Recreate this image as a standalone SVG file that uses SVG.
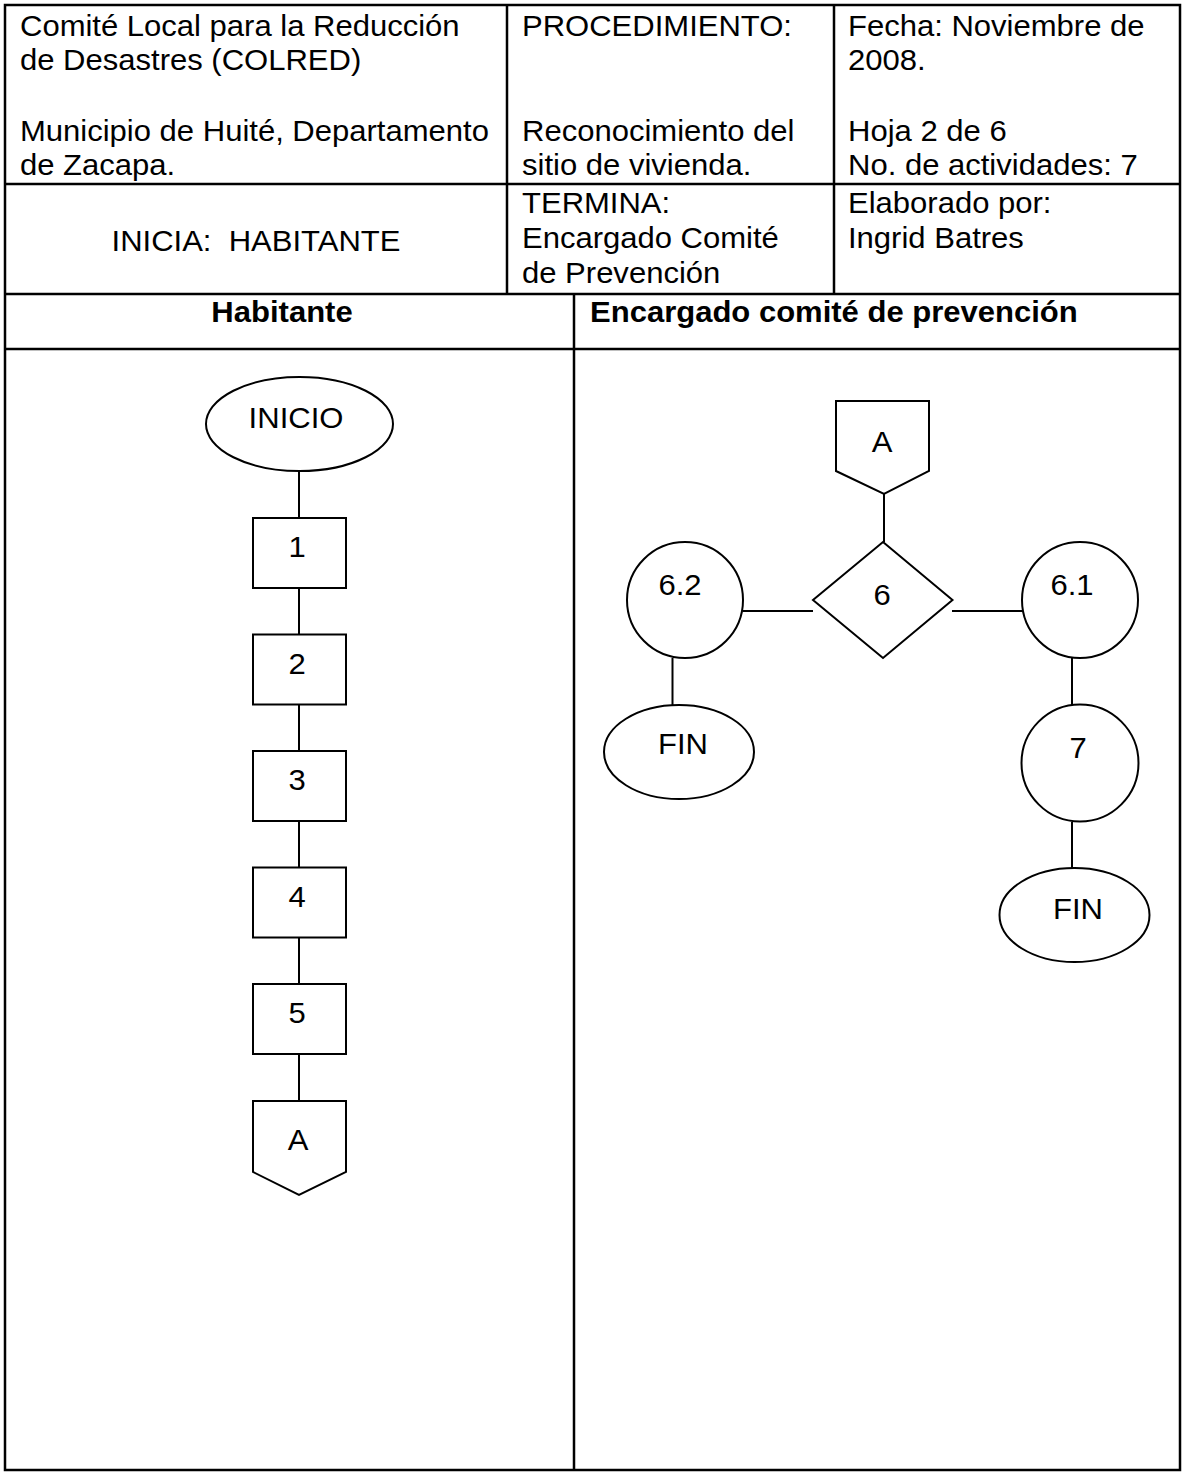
<svg xmlns="http://www.w3.org/2000/svg" width="1184" height="1473" viewBox="0 0 1184 1473">
<style>
.t{font-family:"Liberation Sans",Arial,sans-serif;font-size:29px;fill:#000}
.b{font-weight:bold}
.m{text-anchor:middle}
.grid{stroke:#000;stroke-width:2.5;fill:none}
.shape{stroke:#000;stroke-width:2;fill:#fff}
.conn{stroke:#000;stroke-width:2;fill:none}
</style>
<rect width="1184" height="1473" fill="#fff"/>
<g id="table">
<rect class="grid" x="5" y="5" width="1175" height="1465"/>
<line class="grid" x1="5" y1="184" x2="1180" y2="184"/>
<line class="grid" x1="5" y1="294" x2="1180" y2="294"/>
<line class="grid" x1="5" y1="349" x2="1180" y2="349"/>
<line class="grid" x1="507" y1="5" x2="507" y2="294"/>
<line class="grid" x1="834" y1="5" x2="834" y2="294"/>
<line class="grid" x1="574" y1="294" x2="574" y2="1470"/>
</g>
<g id="header-text">
<text class="t" transform="translate(20,36) scale(1.07,1)">Comité Local para la Reducción</text>
<text class="t" transform="translate(20,70) scale(1.07,1)">de Desastres (COLRED)</text>
<text class="t" transform="translate(20,141) scale(1.07,1)">Municipio de Huité, Departamento</text>
<text class="t" transform="translate(20,175) scale(1.07,1)">de Zacapa.</text>
<text class="t" transform="translate(522,36) scale(1.07,1)">PROCEDIMIENTO:</text>
<text class="t" transform="translate(522,141) scale(1.07,1)">Reconocimiento del</text>
<text class="t" transform="translate(522,175) scale(1.07,1)">sitio de vivienda.</text>
<text class="t" transform="translate(848,36) scale(1.07,1)">Fecha: Noviembre de</text>
<text class="t" transform="translate(848,70) scale(1.07,1)">2008.</text>
<text class="t" transform="translate(848,141) scale(1.07,1)">Hoja 2 de 6</text>
<text class="t" transform="translate(848,175) scale(1.07,1)">No. de actividades: 7</text>
<text class="t m" xml:space="preserve" transform="translate(256,251) scale(1.07,1)">INICIA:  HABITANTE</text>
<text class="t" transform="translate(522,213) scale(1.07,1)">TERMINA:</text>
<text class="t" transform="translate(522,248) scale(1.07,1)">Encargado Comité</text>
<text class="t" transform="translate(522,283) scale(1.07,1)">de Prevención</text>
<text class="t" transform="translate(848,213) scale(1.07,1)">Elaborado por:</text>
<text class="t" transform="translate(848,248) scale(1.07,1)">Ingrid Batres</text>
<text class="t b m" transform="translate(282,322) scale(1.07,1)">Habitante</text>
<text class="t b" transform="translate(590,322) scale(1.07,1)">Encargado comité de prevención</text>
</g>
<g id="connectors">
<line class="conn" x1="299" y1="471" x2="299" y2="518"/>
<line class="conn" x1="299" y1="588" x2="299" y2="634.5"/>
<line class="conn" x1="299" y1="704.5" x2="299" y2="751"/>
<line class="conn" x1="299" y1="821" x2="299" y2="867.5"/>
<line class="conn" x1="299" y1="937.5" x2="299" y2="984"/>
<line class="conn" x1="299" y1="1054" x2="299" y2="1101"/>
<line class="conn" x1="884" y1="494" x2="884" y2="542"/>
<line class="conn" x1="743" y1="611" x2="813" y2="611"/>
<line class="conn" x1="952" y1="611" x2="1023" y2="611"/>
<line class="conn" x1="672.5" y1="658" x2="672.5" y2="705"/>
<line class="conn" x1="1072" y1="658" x2="1072" y2="705"/>
<line class="conn" x1="1072" y1="822" x2="1072" y2="868"/>
</g>
<g id="inicio">
<ellipse class="shape" cx="299.5" cy="424" rx="93.5" ry="47"/>
<text class="t m" transform="translate(296,428) scale(1.07,1)">INICIO</text>
</g>
<g id="act1">
<rect class="shape" x="253" y="518" width="93" height="70"/>
<text class="t m" transform="translate(297,557) scale(1.07,1)">1</text>
</g>
<g id="act2">
<rect class="shape" x="253" y="634.5" width="93" height="70"/>
<text class="t m" transform="translate(297,673.5) scale(1.07,1)">2</text>
</g>
<g id="act3">
<rect class="shape" x="253" y="751" width="93" height="70"/>
<text class="t m" transform="translate(297,790) scale(1.07,1)">3</text>
</g>
<g id="act4">
<rect class="shape" x="253" y="867.5" width="93" height="70"/>
<text class="t m" transform="translate(297,906.5) scale(1.07,1)">4</text>
</g>
<g id="act5">
<rect class="shape" x="253" y="984" width="93" height="70"/>
<text class="t m" transform="translate(297,1023) scale(1.07,1)">5</text>
</g>
<g id="connA-out">
<polygon class="shape" points="253,1101 346,1101 346,1172 299,1195 253,1172"/>
<text class="t m" transform="translate(298,1150) scale(1.07,1)">A</text>
</g>
<g id="connA-in">
<polygon class="shape" points="836,401 929,401 929,471 884,494 836,471"/>
<text class="t m" transform="translate(882,452) scale(1.07,1)">A</text>
</g>
<g id="dec6">
<polygon class="shape" points="883,542 952.5,600 883,658 813,600"/>
<text class="t m" transform="translate(882,605) scale(1.07,1)">6</text>
</g>
<g id="act6-2">
<circle class="shape" cx="685" cy="600" r="58"/>
<text class="t m" transform="translate(680,595) scale(1.07,1)">6.2</text>
</g>
<g id="act6-1">
<circle class="shape" cx="1080" cy="600" r="58"/>
<text class="t m" transform="translate(1072,595) scale(1.07,1)">6.1</text>
</g>
<g id="fin-left">
<ellipse class="shape" cx="679" cy="752" rx="75" ry="47"/>
<text class="t m" transform="translate(683,754) scale(1.07,1)">FIN</text>
</g>
<g id="act7">
<circle class="shape" cx="1080" cy="763" r="58.5"/>
<text class="t m" transform="translate(1078,758) scale(1.07,1)">7</text>
</g>
<g id="fin-right">
<ellipse class="shape" cx="1074.5" cy="915" rx="75" ry="47"/>
<text class="t m" transform="translate(1078,919) scale(1.07,1)">FIN</text>
</g>
</svg>
